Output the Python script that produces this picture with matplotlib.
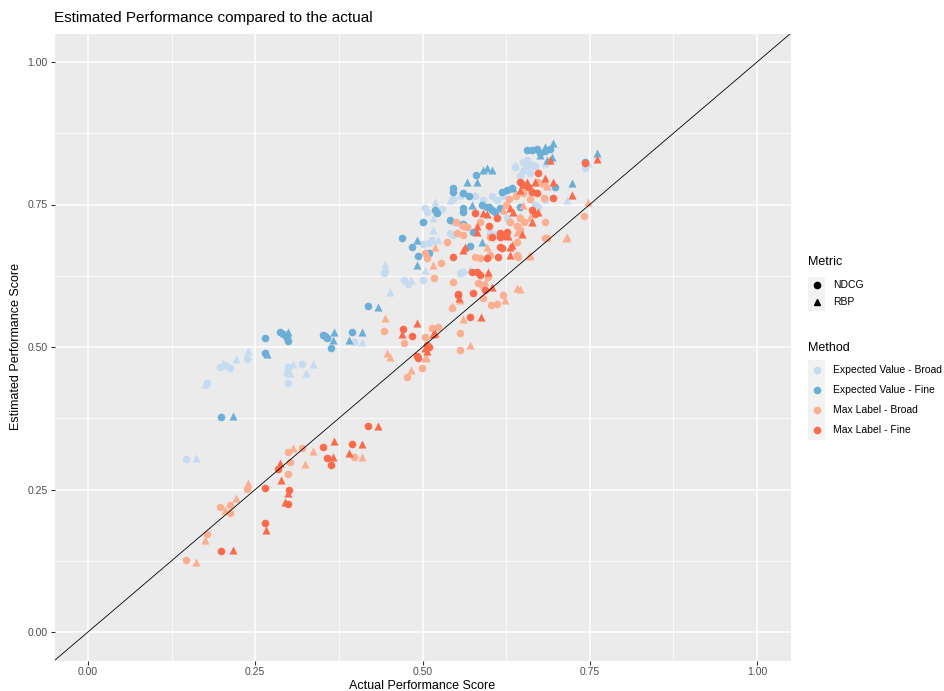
import matplotlib.pyplot as plt
from matplotlib.patches import Rectangle
from matplotlib.lines import Line2D

plt.rcParams["font.family"] = ["Liberation Sans", "DejaVu Sans"]

# actual vs estimated scores, one pair of lists per method / metric
evb_ndcg_x = [0.146, 0.178, 0.197, 0.205, 0.212, 0.238, 0.299, 0.297, 0.320, 0.299, 0.398,
              0.500, 0.510, 0.514, 0.442, 0.472, 0.478, 0.500, 0.556, 0.561,
              0.656, 0.664, 0.668, 0.656, 0.650, 0.645, 0.660, 0.650, 0.743, 0.638,
              0.546, 0.561, 0.578, 0.590, 0.604, 0.611, 0.621, 0.504, 0.507, 0.529,
              0.501, 0.546, 0.556, 0.627, 0.630, 0.668, 0.673, 0.683, 0.601, 0.611,
              0.541, 0.546, 0.680, 0.671]
evb_ndcg_y = [0.303, 0.437, 0.465, 0.468, 0.463, 0.479, 0.465, 0.454, 0.470, 0.437, 0.509,
              0.680, 0.683, 0.687, 0.630, 0.618, 0.611, 0.618, 0.630, 0.632,
              0.828, 0.820, 0.817, 0.817, 0.808, 0.800, 0.805, 0.825, 0.814, 0.816,
              0.760, 0.770, 0.765, 0.758, 0.765, 0.758, 0.765, 0.744, 0.737, 0.742,
              0.720, 0.720, 0.715, 0.726, 0.720, 0.749, 0.746, 0.758, 0.700, 0.698,
              0.700, 0.696, 0.790, 0.790]
evb_rbp_x = [0.161, 0.175, 0.202, 0.221, 0.239, 0.302, 0.306, 0.336, 0.326, 0.410,
             0.523, 0.444, 0.444, 0.504, 0.483, 0.451, 0.571,
             0.638, 0.683, 0.747, 0.716, 0.556, 0.519, 0.516, 0.541, 0.646, 0.516]
evb_rbp_y = [0.305, 0.435, 0.472, 0.479, 0.493, 0.454, 0.470, 0.470, 0.454, 0.509,
             0.688, 0.646, 0.639, 0.635, 0.618, 0.596, 0.637,
             0.819, 0.823, 0.823, 0.758, 0.767, 0.754, 0.726, 0.758, 0.730, 0.705]

evf_ndcg_x = [0.199, 0.265, 0.265, 0.287, 0.291, 0.297, 0.299, 0.351, 0.354, 0.357, 0.363, 0.395,
              0.469, 0.484, 0.510, 0.493, 0.419, 0.571,
              0.656, 0.664, 0.671, 0.676, 0.683, 0.690, 0.743, 0.698, 0.580, 0.546, 0.546,
              0.619, 0.626, 0.634, 0.519, 0.522, 0.561, 0.561, 0.589, 0.596, 0.604, 0.608,
              0.616, 0.646, 0.500, 0.541, 0.561, 0.576, 0.560, 0.570, 0.600]
evf_ndcg_y = [0.377, 0.490, 0.516, 0.526, 0.522, 0.516, 0.510, 0.521, 0.519, 0.516, 0.498, 0.526,
              0.691, 0.675, 0.665, 0.660, 0.572, 0.677,
              0.846, 0.846, 0.847, 0.840, 0.844, 0.847, 0.825, 0.781, 0.802, 0.779, 0.772,
              0.772, 0.775, 0.779, 0.740, 0.735, 0.744, 0.737, 0.749, 0.746, 0.740, 0.737,
              0.744, 0.746, 0.720, 0.723, 0.716, 0.702, 0.770, 0.765, 0.745]
evf_rbp_x = [0.217, 0.268, 0.299, 0.368, 0.366, 0.390, 0.410,
             0.492, 0.492, 0.433, 0.589,
             0.695, 0.683, 0.676, 0.693, 0.686, 0.761, 0.723, 0.590, 0.596, 0.604,
             0.581, 0.566, 0.574, 0.636]
evf_rbp_y = [0.379, 0.488, 0.526, 0.526, 0.512, 0.512, 0.526,
             0.688, 0.644, 0.570, 0.684,
             0.858, 0.851, 0.837, 0.833, 0.828, 0.840, 0.788, 0.810, 0.814, 0.810,
             0.789, 0.789, 0.749, 0.779]

mlb_ndcg_x = [0.146, 0.178, 0.197, 0.212, 0.212, 0.238, 0.299, 0.299, 0.320, 0.302, 0.398,
              0.504, 0.507, 0.528, 0.536, 0.517, 0.546, 0.544, 0.514, 0.523, 0.442, 0.504,
              0.472, 0.556, 0.556, 0.499, 0.477, 0.578, 0.586, 0.601, 0.641, 0.641, 0.583,
              0.589, 0.598, 0.591, 0.621, 0.602, 0.611, 0.686, 0.601, 0.551, 0.561,
              0.683, 0.741, 0.683, 0.642, 0.671, 0.680, 0.650, 0.640, 0.625, 0.630, 0.660,
              0.550, 0.561, 0.567, 0.586, 0.646, 0.651, 0.641, 0.646, 0.631, 0.681]
mlb_ndcg_y = [0.126, 0.172, 0.219, 0.223, 0.209, 0.251, 0.277, 0.316, 0.323, 0.298, 0.307,
              0.665, 0.656, 0.648, 0.684, 0.621, 0.614, 0.568, 0.533, 0.535, 0.528, 0.518,
              0.507, 0.495, 0.525, 0.463, 0.447, 0.658, 0.656, 0.661, 0.661, 0.684, 0.612,
              0.609, 0.623, 0.586, 0.591, 0.574, 0.575, 0.691, 0.693, 0.700, 0.696,
              0.719, 0.730, 0.691, 0.658, 0.790, 0.786, 0.770, 0.765, 0.750, 0.760, 0.760,
              0.720, 0.712, 0.710, 0.719, 0.726, 0.720, 0.712, 0.705, 0.720, 0.762]
mlb_rbp_x = [0.161, 0.175, 0.205, 0.221, 0.239, 0.306, 0.336, 0.324, 0.410,
             0.519, 0.516, 0.444, 0.505, 0.447, 0.451, 0.504, 0.483, 0.560, 0.596, 0.661,
             0.593, 0.623, 0.641, 0.645, 0.556, 0.544, 0.571, 0.641, 0.716, 0.659,
             0.747, 0.714, 0.686, 0.664, 0.660, 0.620, 0.650]
mlb_rbp_y = [0.123, 0.161, 0.214, 0.235, 0.261, 0.323, 0.318, 0.295, 0.307,
             0.676, 0.644, 0.551, 0.483, 0.490, 0.483, 0.481, 0.460, 0.549, 0.675, 0.661,
             0.614, 0.582, 0.603, 0.601, 0.582, 0.572, 0.504, 0.702, 0.693, 0.660,
             0.754, 0.691, 0.782, 0.775, 0.728, 0.740, 0.750]

mlf_ndcg_x = [0.199, 0.265, 0.265, 0.300, 0.299, 0.284, 0.351, 0.357, 0.363, 0.395, 0.419,
              0.546, 0.553, 0.471, 0.484, 0.507, 0.510, 0.492, 0.493, 0.574, 0.596, 0.613,
              0.616, 0.619, 0.581, 0.586, 0.593, 0.576, 0.553, 0.571, 0.604, 0.616,
              0.673, 0.658, 0.664, 0.671, 0.695, 0.743, 0.578, 0.611, 0.664, 0.668, 0.600,
              0.616, 0.626, 0.620, 0.650, 0.645]
mlf_ndcg_y = [0.142, 0.191, 0.253, 0.249, 0.224, 0.286, 0.325, 0.305, 0.293, 0.330, 0.361,
              0.658, 0.593, 0.532, 0.519, 0.504, 0.500, 0.484, 0.481, 0.632, 0.656, 0.658,
              0.675, 0.674, 0.632, 0.626, 0.600, 0.595, 0.591, 0.553, 0.693, 0.693,
              0.805, 0.781, 0.772, 0.770, 0.761, 0.823, 0.735, 0.726, 0.740, 0.733, 0.712,
              0.700, 0.702, 0.695, 0.785, 0.790]
mlf_rbp_x = [0.217, 0.266, 0.287, 0.288, 0.299, 0.294, 0.368, 0.366, 0.390, 0.410, 0.433,
             0.555, 0.492, 0.469, 0.516, 0.504, 0.507, 0.560, 0.563, 0.631, 0.634, 0.631,
             0.598, 0.604, 0.587, 0.519, 0.649, 0.628, 0.581,
             0.690, 0.761, 0.683, 0.695, 0.723, 0.590, 0.596, 0.631, 0.636, 0.673, 0.664,
             0.581, 0.646, 0.656, 0.668]
mlf_rbp_y = [0.144, 0.179, 0.296, 0.267, 0.244, 0.228, 0.335, 0.307, 0.314, 0.330, 0.361,
             0.586, 0.542, 0.523, 0.523, 0.498, 0.493, 0.670, 0.675, 0.675, 0.679, 0.661,
             0.632, 0.605, 0.553, 0.525, 0.698, 0.695, 0.702,
             0.828, 0.830, 0.796, 0.789, 0.767, 0.735, 0.733, 0.744, 0.737, 0.737, 0.719,
             0.712, 0.775, 0.790, 0.790]

method_names = ["Expected Value - Broad", "Expected Value - Fine",
                "Max Label - Broad", "Max Label - Fine"]
method_colors = ["#c6dbef", "#6baed6", "#fcae91", "#fb6a4a"]
metric_names = ["NDCG", "RBP"]
metric_markers = ["o", "^"]

series = [
    (evb_ndcg_x, evb_ndcg_y, 0, 0), (evb_rbp_x, evb_rbp_y, 0, 1),
    (evf_ndcg_x, evf_ndcg_y, 1, 0), (evf_rbp_x, evf_rbp_y, 1, 1),
    (mlb_ndcg_x, mlb_ndcg_y, 2, 0), (mlb_rbp_x, mlb_rbp_y, 2, 1),
    (mlf_ndcg_x, mlf_ndcg_y, 3, 0), (mlf_rbp_x, mlf_rbp_y, 3, 1),
]

ticks = [0.0, 0.25, 0.5, 0.75, 1.0]
tick_labels = ["0.00", "0.25", "0.50", "0.75", "1.00"]

W, H = 944, 691
fig = plt.figure(figsize=(W / 100, H / 100), dpi=100)
ax = fig.add_axes([54.5 / W, 1 - 660.5 / H, (790.5 - 54.5) / W, (660.5 - 33.5) / H])
ax.set_facecolor("#ebebeb")
for s in ax.spines.values():
    s.set_visible(False)

for xs, ys, mi, ki in series:
    ax.scatter(xs, ys, s=30 if ki == 0 else 34, marker=metric_markers[ki],
               color=method_colors[mi], linewidths=0, zorder=3)

ax.axline((0, 0), slope=1, color="black", lw=0.6, zorder=4)

ax.set_xlim(-0.05, 1.05)
ax.set_ylim(-0.05, 1.05)
ax.set_xticks(ticks)
ax.set_xticklabels(tick_labels)
ax.set_yticks(ticks)
ax.set_yticklabels(tick_labels)
ax.set_xticks([0.125, 0.375, 0.625, 0.875], minor=True)
ax.set_yticks([0.125, 0.375, 0.625, 0.875], minor=True)
ax.grid(which="major", color="white", lw=1.1, zorder=0)
ax.grid(which="minor", color="white", lw=0.55, zorder=0)
ax.set_axisbelow(True)
ax.tick_params(which="major", length=3, width=0.8, color="#333333",
               labelsize=7.5, labelcolor="#4d4d4d", pad=2)
ax.tick_params(which="minor", length=0)

ax.set_xlabel("Actual Performance Score", fontsize=9, labelpad=2)
ax.set_ylabel("Estimated Performance Score", fontsize=9, labelpad=4)
fig.text(54 / W, 1 - 18 / H, "Estimated Performance compared to the actual",
         fontsize=11, va="center", ha="left")

# legend panel on the right, laid out in pixel units
lg = fig.add_axes([800 / W, 0, (W - 800) / W, 1])
lg.set_xlim(800, W)
lg.set_ylim(H, 0)
lg.axis("off")

key = 17
lg.text(808, 262, "Metric", fontsize=9, va="center")
for i, (name, mk) in enumerate(zip(metric_names, metric_markers)):
    yc = 285 + i * key
    lg.add_patch(Rectangle((808, yc - key / 2), key, key, facecolor="#f2f2f2", edgecolor="none"))
    lg.add_line(Line2D([808 + key / 2], [yc], marker=mk, color="black",
                       markersize=4.5, linestyle="none"))
    lg.text(833, yc, name, fontsize=7.5, va="center")

lg.text(808, 348, "Method", fontsize=9, va="center")
for i, (name, col) in enumerate(zip(method_names, method_colors)):
    yc = 370 + i * 20
    lg.add_patch(Rectangle((808, yc - 10), key, 20, facecolor="#f2f2f2", edgecolor="none"))
    lg.add_line(Line2D([808 + key / 2], [yc], marker="o", color=col,
                       markersize=4.5, linestyle="none"))
    lg.text(833, yc, name, fontsize=7.5, va="center")

fig.savefig("out.png", dpi=100)
